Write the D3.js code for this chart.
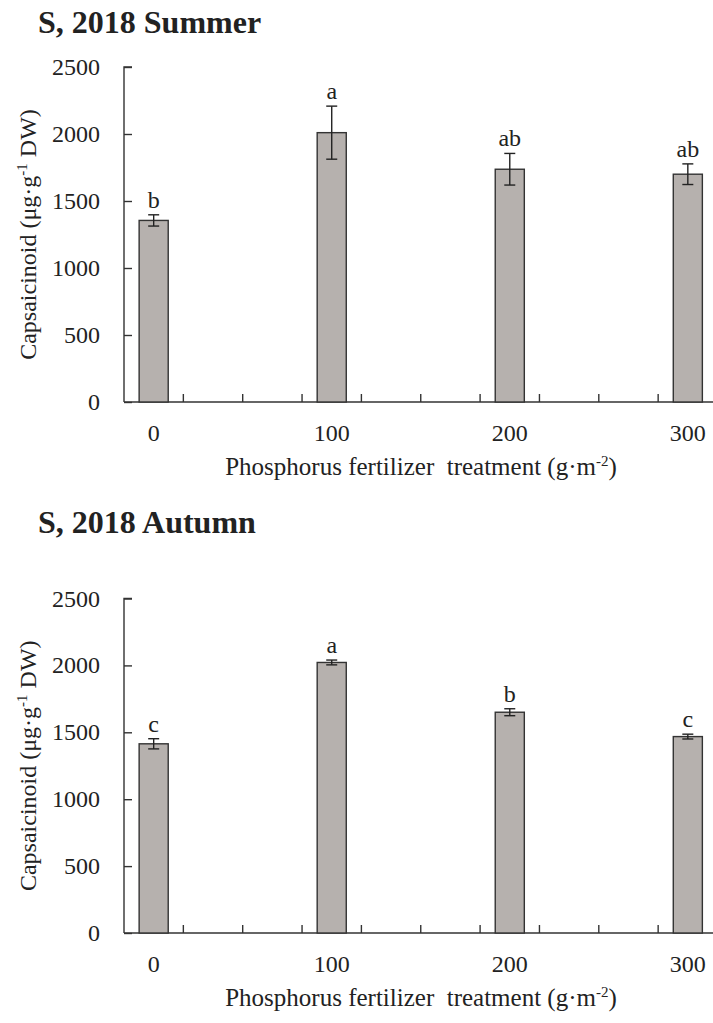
<!DOCTYPE html>
<html>
<head>
<meta charset="utf-8">
<script src="https://cdn.jsdelivr.net/npm/d3@7"></script>
<style>
  html, body { margin: 0; padding: 0; background: #fff; }
  svg { display: block; }
  text { font-family: "Liberation Serif", "Times New Roman", serif; fill: #222; }
</style>
</head>
<body>
<svg id="chart" width="713" height="1023"></svg>
<script>
// Category slots along the x axis (Excel-style category axis with blank slots)
const categorySlots = ["0", "", "", "100", "", "", "200", "", "", "300"];
// Phosphorus treatments (g·m-2) that carry a bar
const treatments = ["0", "100", "200", "300"];
const treatmentSlot = [0, 3, 6, 9];

// Capsaicinoid content (µg·g-1 DW), mean and error
const summerMean = [1355, 2010, 1737, 1700];
const summerErr = [42, 198, 118, 77];
const summerLetters = ["b", "a", "ab", "ab"];

const autumnMean = [1414, 2022, 1650, 1468];
const autumnErr = [38, 18, 26, 18];
const autumnLetters = ["c", "a", "b", "c"];

const yTicks = [0, 500, 1000, 1500, 2000, 2500];

const svg = d3.select("#chart");
const axisLeft = 124;
const slotWidth = 59.35;

const x = d3.scaleBand()
  .domain(d3.range(categorySlots.length))
  .range([axisLeft, axisLeft + slotWidth * categorySlots.length])
  .paddingInner(0).paddingOuter(0);

function drawPanel(cfg) {
  const g = svg.append("g");
  const y = d3.scaleLinear().domain([0, 2500]).range([cfg.yBase, cfg.yTop]);

  // panel title
  g.append("text")
    .attr("x", 38).attr("y", cfg.titleY)
    .attr("font-size", 32).attr("font-weight", "bold")
    .attr("fill", "#1a1a1a")
    .text(cfg.title);

  // y axis
  const yAxis = d3.axisRight(y).tickValues(yTicks).tickSize(8).tickFormat("");
  const ya = g.append("g").attr("transform", `translate(${axisLeft},0)`).call(yAxis);
  ya.select(".domain").attr("d", `M8,${cfg.yTop}H0V${cfg.yBase}`);
  ya.selectAll("path, line").attr("stroke", "#333").attr("stroke-width", 1.4);

  g.selectAll(".ylab").data(yTicks).join("text")
    .attr("class", "ylab")
    .attr("x", 100).attr("y", d => y(d) + 8)
    .attr("text-anchor", "end").attr("font-size", 24)
    .text(d => d);

  // x axis with inward ticks at slot boundaries
  const bounds = d3.range(1, categorySlots.length).map(i => x(i));
  g.append("line")
    .attr("x1", axisLeft).attr("x2", axisLeft + slotWidth * categorySlots.length)
    .attr("y1", cfg.yBase).attr("y2", cfg.yBase)
    .attr("stroke", "#333").attr("stroke-width", 1.4);
  g.selectAll(".xtick").data(bounds).join("line")
    .attr("class", "xtick")
    .attr("x1", d => d).attr("x2", d => d)
    .attr("y1", cfg.yBase).attr("y2", cfg.yBase - 8)
    .attr("stroke", "#333").attr("stroke-width", 1.4);

  g.selectAll(".xlab").data(treatments).join("text")
    .attr("class", "xlab")
    .attr("x", (d, i) => x(treatmentSlot[i]) + x.bandwidth() / 2)
    .attr("y", cfg.yBase + 39)
    .attr("text-anchor", "middle").attr("font-size", 24)
    .text(d => d);

  // bars
  const barW = x.bandwidth() * 0.49;
  g.selectAll(".bar").data(cfg.mean).join("rect")
    .attr("class", "bar")
    .attr("x", (d, i) => x(treatmentSlot[i]) + (x.bandwidth() - barW) / 2)
    .attr("width", barW)
    .attr("y", d => y(d))
    .attr("height", d => cfg.yBase - y(d))
    .attr("fill", "#b6b1ae").attr("stroke", "#333").attr("stroke-width", 1.4);

  // error bars
  const cap = 5.5;
  const eb = g.selectAll(".err").data(cfg.mean).join("g").attr("class", "err")
    .attr("transform", (d, i) => `translate(${x(treatmentSlot[i]) + x.bandwidth() / 2},0)`);
  eb.append("line")
    .attr("y1", (d, i) => y(d + cfg.err[i])).attr("y2", (d, i) => y(d - cfg.err[i]))
    .attr("stroke", "#222").attr("stroke-width", 1.4);
  eb.append("line")
    .attr("x1", -cap).attr("x2", cap)
    .attr("y1", (d, i) => y(d + cfg.err[i])).attr("y2", (d, i) => y(d + cfg.err[i]))
    .attr("stroke", "#222").attr("stroke-width", 1.4);
  eb.append("line")
    .attr("x1", -cap).attr("x2", cap)
    .attr("y1", (d, i) => y(d - cfg.err[i])).attr("y2", (d, i) => y(d - cfg.err[i]))
    .attr("stroke", "#222").attr("stroke-width", 1.4);

  // significance letters
  eb.append("text")
    .attr("y", (d, i) => y(d + cfg.err[i]) - 7)
    .attr("text-anchor", "middle").attr("font-size", 24)
    .text((d, i) => cfg.letters[i]);

  // y axis title
  const midY = (cfg.yTop + cfg.yBase) / 2;
  const yt = g.append("text")
    .attr("transform", `translate(36,${midY}) rotate(-90)`)
    .attr("text-anchor", "middle").attr("font-size", 24);
  yt.append("tspan").text("Capsaicinoid (μg·g");
  yt.append("tspan").attr("font-size", 15).attr("dy", -9).text("-1");
  yt.append("tspan").attr("dy", 9).text(" DW)");

  // x axis title
  const xt = g.append("text")
    .attr("x", 421).attr("y", cfg.yBase + 73)
    .attr("text-anchor", "middle").attr("font-size", 25)
    .attr("xml:space", "preserve");
  xt.append("tspan").text("Phosphorus fertilizer  treatment (g·m");
  xt.append("tspan").attr("font-size", 15).attr("dy", -9).text("-2");
  xt.append("tspan").attr("dy", 9).text(")");
}

drawPanel({
  title: "S, 2018 Summer", titleY: 33,
  yTop: 67, yBase: 402,
  mean: summerMean, err: summerErr, letters: summerLetters
});
drawPanel({
  title: "S, 2018 Autumn", titleY: 533,
  yTop: 598.5, yBase: 933,
  mean: autumnMean, err: autumnErr, letters: autumnLetters
});
</script>
</body>
</html>
